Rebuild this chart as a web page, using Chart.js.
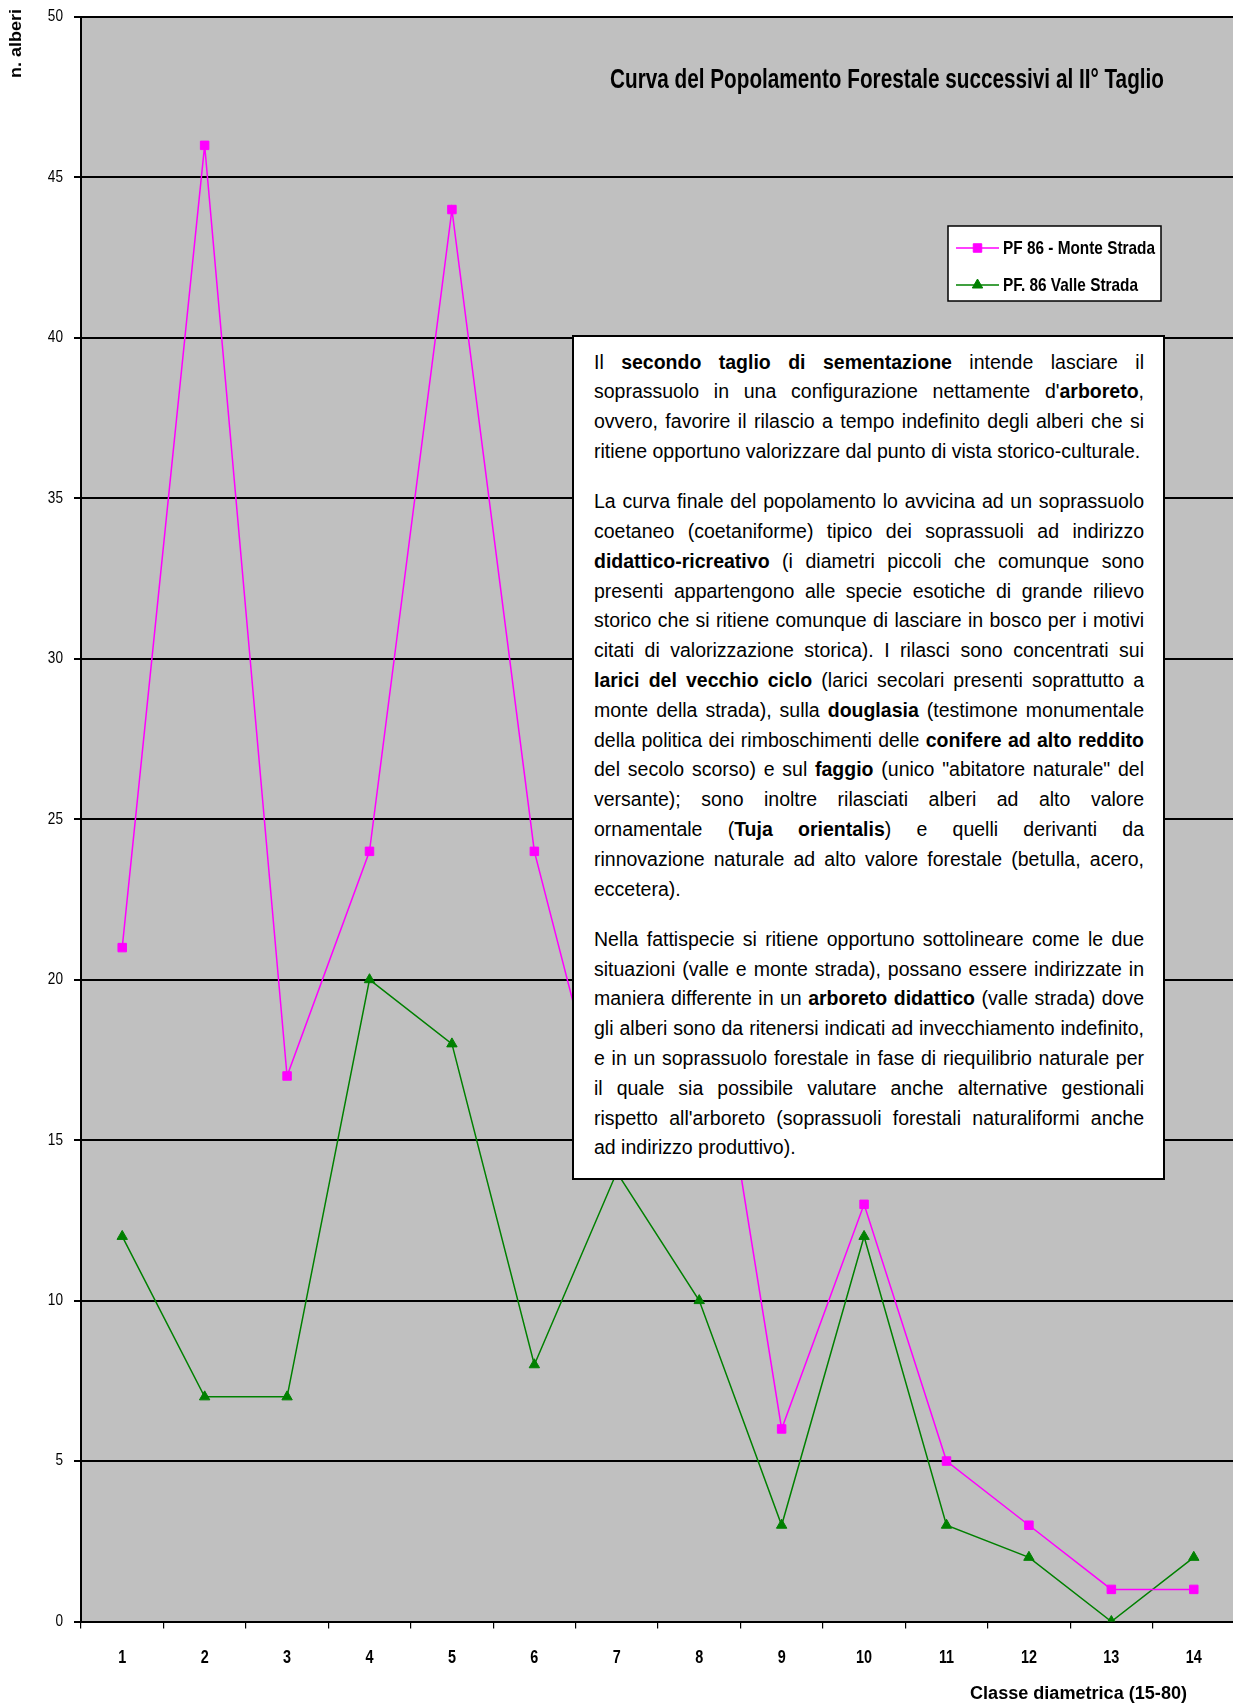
<!DOCTYPE html>
<html>
<head>
<meta charset="utf-8">
<script src="https://cdn.jsdelivr.net/npm/chart.js@4"></script>
<style>
  html, body { margin: 0; padding: 0; background: #fff; overflow: hidden; }
  #wrap { position: relative; width: 1233px; height: 1704px; overflow: hidden; }
  #c { position: absolute; left: 0; top: 0; }
  #note {
    position: absolute; left: 572px; top: 335px; width: 593px; height: 845px;
    box-sizing: border-box; background: #fff; border: 2px solid #000;
    padding: 10.5px 19px 0 20px;
    font-family: "Liberation Sans", Arial, sans-serif;
    font-size: 19.5px; line-height: 29.8px; color: #000;
  }
  #note .p { margin: 0 0 20.5px 0; }
  #note .l { text-align: justify; text-align-last: justify; }
  #note .e { text-align: left; }
</style>
</head>
<body>
<div id="wrap">
  <!-- the plot runs a few pixels past the right edge of the page -->
  <canvas id="c" width="1242" height="1704"></canvas>
  <div id="note">
    <div class="p">
      <div class="l">Il <b>secondo taglio di sementazione</b> intende lasciare il</div>
      <div class="l">soprassuolo in una configurazione nettamente d'<b>arboreto</b>,</div>
      <div class="l">ovvero, favorire il rilascio a tempo indefinito degli alberi che si</div>
      <div class="e">ritiene opportuno valorizzare dal punto di vista storico-culturale.</div>
    </div>
    <div class="p">
      <div class="l">La curva finale del popolamento lo avvicina ad un soprassuolo</div>
      <div class="l">coetaneo (coetaniforme) tipico dei soprassuoli ad indirizzo</div>
      <div class="l"><b>didattico-ricreativo</b> (i diametri piccoli che comunque sono</div>
      <div class="l">presenti appartengono alle specie esotiche di grande rilievo</div>
      <div class="l">storico che si ritiene comunque di lasciare in bosco per i motivi</div>
      <div class="l">citati di valorizzazione storica). I rilasci sono concentrati sui</div>
      <div class="l"><b>larici del vecchio ciclo</b> (larici secolari presenti soprattutto a</div>
      <div class="l">monte della strada), sulla <b>douglasia</b> (testimone monumentale</div>
      <div class="l">della politica dei rimboschimenti delle <b>conifere ad alto reddito</b></div>
      <div class="l">del secolo scorso) e sul <b>faggio</b> (unico "abitatore naturale" del</div>
      <div class="l">versante); sono inoltre rilasciati alberi ad alto valore</div>
      <div class="l">ornamentale (<b>Tuja orientalis</b>) e quelli derivanti da</div>
      <div class="l">rinnovazione naturale ad alto valore forestale (betulla, acero,</div>
      <div class="e">eccetera).</div>
    </div>
    <div class="p">
      <div class="l">Nella fattispecie si ritiene opportuno sottolineare come le due</div>
      <div class="l">situazioni (valle e monte strada), possano essere indirizzate in</div>
      <div class="l">maniera differente in un <b>arboreto didattico</b> (valle strada) dove</div>
      <div class="l">gli alberi sono da ritenersi indicati ad invecchiamento indefinito,</div>
      <div class="l">e in un soprassuolo forestale in fase di riequilibrio naturale per</div>
      <div class="l">il quale sia possibile valutare anche alternative gestionali</div>
      <div class="l">rispetto all'arboreto (soprassuoli forestali naturaliformi anche</div>
      <div class="e">ad indirizzo produttivo).</div>
    </div>
  </div>
</div>
<script>
// Diameter classes (15-80 cm) on the x axis
const categories = ['1', '2', '3', '4', '5', '6', '7', '8', '9', '10', '11', '12', '13', '14'];
// Number of trees per class, uphill of the road
const monteStrada = [21, 46, 17, 24, 44, 24, 14, 22, 6, 13, 5, 3, 1, 1];
// Number of trees per class, downhill of the road
const valleStrada = [12, 7, 7, 20, 18, 8, 14, 10, 3, 12, 3, 2, 0, 2];
const seriesNames = ['PF 86 - Monte Strada', 'PF. 86 Valle Strada'];
const yMin = 0, yMax = 50, yStep = 5;

const FAMILY = '"Liberation Sans", Arial, sans-serif';
const PINK = '#FF00FF';
const GREEN = '#008000';
const PLOT_BG = '#C0C0C0';
const PLOT_LEFT = 81;

// Condensed text: a regular face squeezed horizontally.
// If width is given the squeeze is chosen so the text spans that width.
function narrowText(ctx, text, x, y, size, weight, align, sx, width) {
  ctx.save();
  ctx.font = weight + ' ' + size + 'px ' + FAMILY;
  if (width) sx = width / ctx.measureText(text).width;
  ctx.translate(x, y);
  ctx.scale(sx, 1);
  ctx.textAlign = align;
  ctx.textBaseline = 'middle';
  ctx.fillText(text, 0, 0);
  ctx.restore();
  return sx;
}

// Grey plot area behind the grid
const plotBackground = {
  id: 'plotBackground',
  beforeDraw(chart) {
    const { ctx, chartArea: a } = chart;
    ctx.save();
    ctx.fillStyle = PLOT_BG;
    ctx.fillRect(a.left, a.top, a.right - a.left, a.bottom - a.top);
    ctx.restore();
  }
};

// Tick labels in a condensed face, placed from the scales
const tickLabels = {
  id: 'tickLabels',
  afterDraw(chart) {
    const { ctx } = chart;
    const xs = chart.scales.x, ys = chart.scales.y;
    ctx.save();
    ctx.fillStyle = '#000';
    xs.ticks.forEach((t, i) => {
      narrowText(ctx, xs.getLabelForValue(t.value), xs.getPixelForTick(i), xs.top + 36.5, 18, 'bold', 'center', 0.8);
    });
    ys.ticks.forEach((t, i) => {
      narrowText(ctx, String(t.value), ys.right - 18, ys.getPixelForTick(i), 16, 'normal', 'right', 0.85);
    });
    ctx.restore();
  }
};

// Title, axis titles and the boxed legend
const decorations = {
  id: 'decorations',
  afterDraw(chart) {
    const { ctx } = chart;
    ctx.save();
    ctx.fillStyle = '#000';

    narrowText(ctx, 'Curva del Popolamento Forestale successivi al II\u00B0 Taglio', 1164, 81, 27, 'bold', 'right', 1, 554);
    narrowText(ctx, 'Classe diametrica (15-80)', 1187, 1694, 18, 'bold', 'right', 1, 217);

    ctx.save();
    ctx.translate(16, 9);
    ctx.rotate(-Math.PI / 2);
    narrowText(ctx, 'n. alberi', 0, 0, 17, 'bold', 'right', 1, 69);
    ctx.restore();

    // legend
    const lx = 948, ly = 226, lw = 213, lh = 75;
    ctx.fillStyle = '#fff';
    ctx.fillRect(lx, ly, lw, lh);
    ctx.strokeStyle = '#000';
    ctx.lineWidth = 1.5;
    ctx.strokeRect(lx, ly, lw, lh);
    let sx = null;
    chart.data.datasets.forEach((ds, i) => {
      const y = ly + 22 + i * 37;
      ctx.strokeStyle = ds.borderColor;
      ctx.lineWidth = 1.5;
      ctx.beginPath();
      ctx.moveTo(lx + 8, y);
      ctx.lineTo(lx + 51, y);
      ctx.stroke();
      ctx.fillStyle = ds.pointBackgroundColor;
      ctx.strokeStyle = ds.pointBorderColor;
      ctx.lineWidth = 1;
      Chart.helpers.drawPoint(ctx, {
        pointStyle: ds.pointStyle, radius: ds.pointRadius, borderWidth: 1, rotation: 0
      }, lx + 29.5, y);
      ctx.fillStyle = '#000';
      if (sx === null) sx = narrowText(ctx, ds.label, lx + 55, y + 1, 18.5, 'bold', 'left', 1, 152);
      else narrowText(ctx, ds.label, lx + 55, y + 1, 18.5, 'bold', 'left', sx);
    });
    ctx.restore();
  }
};

new Chart(document.getElementById('c'), {
  type: 'line',
  data: {
    labels: categories,
    datasets: [
      {
        label: seriesNames[0], data: monteStrada,
        borderColor: PINK, backgroundColor: PINK,
        pointBackgroundColor: PINK, pointBorderColor: PINK,
        pointStyle: 'rect', pointRadius: 6, pointBorderWidth: 1,
        borderWidth: 1.5, tension: 0, fill: false
      },
      {
        label: seriesNames[1], data: valleStrada,
        borderColor: GREEN, backgroundColor: GREEN,
        pointBackgroundColor: GREEN, pointBorderColor: GREEN,
        pointStyle: 'triangle', pointRadius: 6, pointBorderWidth: 1,
        borderWidth: 1.5, tension: 0, fill: false
      }
    ]
  },
  options: {
    responsive: false,
    animation: false,
    devicePixelRatio: 1,
    layout: { padding: { left: 0, top: 17, right: 0, bottom: 0 } },
    plugins: { legend: { display: false }, title: { display: false }, tooltip: { enabled: false } },
    elements: { line: { borderJoinStyle: 'miter' } },
    scales: {
      x: {
        offset: true,
        grid: { offset: true, drawOnChartArea: false, drawTicks: true, tickLength: 7, color: '#000', lineWidth: 1.2 },
        border: { display: true, color: '#000', width: 2 },
        ticks: { display: false },
        afterFit(scale) { scale.height = 82.5; }
      },
      y: {
        min: yMin, max: yMax,
        grid: { color: '#000', lineWidth: 2, drawTicks: true, tickLength: 7 },
        border: { display: true, color: '#000', width: 2 },
        ticks: { display: false, stepSize: yStep },
        afterFit(scale) { scale.width = PLOT_LEFT; }
      }
    }
  },
  plugins: [plotBackground, tickLabels, decorations]
});
</script>
</body>
</html>
